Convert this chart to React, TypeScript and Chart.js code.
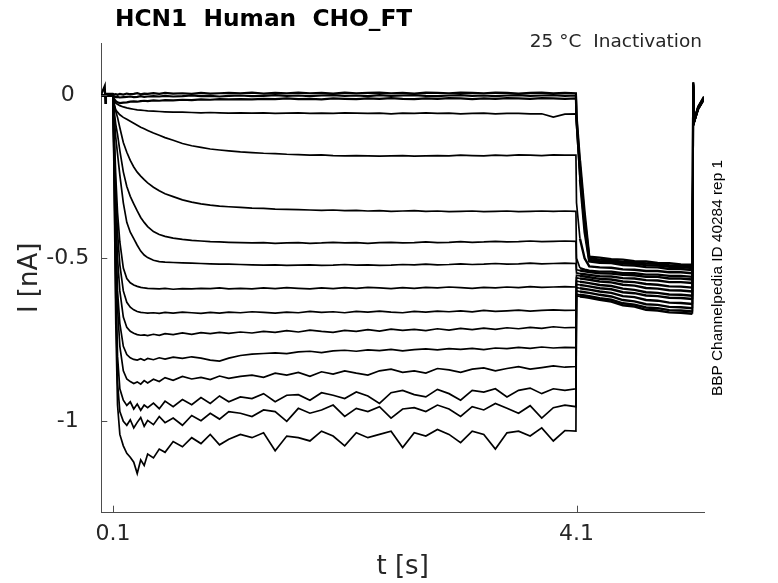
import { useEffect, useRef } from "react";
import Chart from "chart.js/auto";

// sample times [s], shared by every sweep
const timeS = [
  0, 0.03, 0.035, 0.04, 0.1,
  0.11, 0.125, 0.14, 0.16, 0.19, 0.22, 0.25, 0.28, 0.31, 0.34, 0.37, 0.4,
  0.45, 0.5, 0.55, 0.62, 0.7, 0.78, 0.86, 0.94, 1.02, 1.1,
  1.2, 1.3, 1.4, 1.5, 1.6, 1.7, 1.8, 1.9, 2.0, 2.1, 2.2, 2.3, 2.4, 2.5, 2.6,
  2.7, 2.8, 2.9, 3.0, 3.1, 3.2, 3.3, 3.4, 3.5, 3.6, 3.7, 3.8, 3.9, 4.0,
  4.095, 4.1,
  4.13, 4.17, 4.21,
  4.3, 4.4, 4.5, 4.6, 4.7, 4.8, 4.9, 5.0, 5.1,
  5.105, 5.107, 5.115, 5.15, 5.2,
];

// current [nA] per sweep
const sweep01 = [
  0.003, 0.028, -0.024, 0.004, 0.004,
  0.002, 0.003, 0.001, 0.004, 0.002, 0.005, 0.003, 0.004, 0.006, 0.003, 0.005, 0.004,
  0.006, 0.004, 0.007, 0.005, 0.006, 0.004, 0.007, 0.005, 0.006, 0.007,
  0.006, 0.008, 0.005, 0.007, 0.006, 0.008, 0.006, 0.007, 0.005, 0.008,
  0.006, 0.007, 0.008, 0.006, 0.007, 0.005, 0.008, 0.007, 0.006, 0.008,
  0.007, 0.006, 0.008, 0.007, 0.005, 0.007, 0.008, 0.006, 0.007,
  0.006, -0.06,
  -0.2, -0.36, -0.495,
  -0.498, -0.503, -0.504, -0.509, -0.51, -0.514, -0.515, -0.519, -0.52,
  -0.52, 0.04, -0.075, -0.035, -0.004,
];
const sweep02 = [
  0, 0, 0, 0, 0,
  -0.004, -0.006, -0.005, -0.007, -0.006, -0.005, -0.004, -0.006, -0.005, -0.003, -0.005, -0.004,
  -0.003, -0.004, -0.002, -0.004, -0.003, -0.001, -0.003, -0.002, -0.004, -0.002,
  -0.001, -0.003, -0.002, 0, -0.002, -0.001, -0.003, -0.001, 0, -0.002,
  -0.001, -0.003, 0, -0.002, -0.001, 0, -0.002, -0.003, -0.001, 0,
  -0.002, -0.001, -0.003, -0.001, 0, -0.002, -0.001, 0, -0.002,
  -0.001, -0.07,
  -0.22, -0.38, -0.5,
  -0.504, -0.506, -0.511, -0.512, -0.516, -0.517, -0.521, -0.522, -0.525,
  -0.525, 0.038, -0.077, -0.036, -0.006,
];
const sweep03 = [
  -0.002, -0.002, -0.002, -0.002, -0.002,
  -0.012, -0.018, -0.022, -0.024, -0.023, -0.022, -0.02, -0.019, -0.02, -0.018, -0.017, -0.018,
  -0.016, -0.017, -0.015, -0.016, -0.014, -0.015, -0.013, -0.014, -0.012, -0.013,
  -0.012, -0.013, -0.011, -0.012, -0.01, -0.012, -0.011, -0.013, -0.01, -0.011,
  -0.012, -0.01, -0.011, -0.009, -0.011, -0.012, -0.01, -0.011, -0.009, -0.01,
  -0.012, -0.01, -0.011, -0.009, -0.01, -0.011, -0.009, -0.01, -0.011,
  -0.01, -0.08,
  -0.24, -0.4, -0.505,
  -0.509, -0.511, -0.516, -0.517, -0.521, -0.522, -0.526, -0.527, -0.53,
  -0.53, 0.036, -0.078, -0.037, -0.007,
];
const sweep04 = [
  0, 0, 0, 0, 0,
  -0.018, -0.024, -0.028, -0.032, -0.036, -0.039, -0.041, -0.043, -0.045, -0.046, -0.047, -0.048,
  -0.049, -0.05, -0.051, -0.052, -0.052, -0.053, -0.054, -0.053, -0.054, -0.055,
  -0.054, -0.055, -0.054, -0.056, -0.055, -0.054, -0.056, -0.055, -0.056, -0.054,
  -0.055, -0.056, -0.055, -0.057, -0.055, -0.056, -0.054, -0.056, -0.055, -0.057,
  -0.056, -0.055, -0.057, -0.056, -0.056, -0.057, -0.057, -0.067, -0.058,
  -0.057, -0.09,
  -0.26, -0.42, -0.51,
  -0.514, -0.515, -0.521, -0.522, -0.527, -0.528, -0.533, -0.533, -0.536,
  -0.536, 0.035, -0.078, -0.038, -0.008,
];
const sweep05 = [
  0, 0, 0, 0, 0,
  -0.025, -0.045, -0.052, -0.06, -0.068, -0.074, -0.08, -0.086, -0.092, -0.098, -0.103, -0.108,
  -0.116, -0.123, -0.13, -0.138, -0.148, -0.155, -0.16, -0.165, -0.168, -0.171,
  -0.174, -0.176, -0.178, -0.179, -0.181, -0.182, -0.184, -0.183, -0.185, -0.186,
  -0.185, -0.186, -0.187, -0.186, -0.185, -0.187, -0.186, -0.185, -0.186, -0.184,
  -0.185, -0.186, -0.184, -0.185, -0.183, -0.184, -0.185, -0.183, -0.184,
  -0.184, -0.33,
  -0.44, -0.5, -0.525,
  -0.528, -0.529, -0.534, -0.535, -0.539, -0.539, -0.543, -0.543, -0.546,
  -0.546, 0.034, -0.079, -0.038, -0.008,
];
const sweep06 = [
  0, 0, 0, 0, 0,
  -0.03, -0.05, -0.068, -0.1, -0.145, -0.175, -0.2, -0.22, -0.236, -0.248, -0.259, -0.269,
  -0.282, -0.293, -0.302, -0.311, -0.321, -0.328, -0.333, -0.337, -0.34, -0.342,
  -0.344, -0.346, -0.347, -0.349, -0.35, -0.351, -0.352, -0.353, -0.352, -0.354,
  -0.353, -0.355, -0.354, -0.356, -0.355, -0.354, -0.356, -0.355, -0.357, -0.356,
  -0.355, -0.357, -0.356, -0.355, -0.357, -0.356, -0.355, -0.356, -0.355,
  -0.356, -0.5,
  -0.53, -0.535, -0.538,
  -0.541, -0.541, -0.546, -0.546, -0.55, -0.55, -0.554, -0.554, -0.557,
  -0.557, 0.033, -0.08, -0.039, -0.009,
];
const sweep07 = [
  0, 0, 0, 0, 0,
  -0.045, -0.09, -0.12, -0.17, -0.235, -0.28, -0.31, -0.333, -0.355, -0.375, -0.39, -0.403,
  -0.418, -0.427, -0.433, -0.438, -0.442, -0.445, -0.447, -0.449, -0.45, -0.451,
  -0.452, -0.453, -0.452, -0.454, -0.453, -0.452, -0.454, -0.453, -0.451, -0.453,
  -0.452, -0.454, -0.452, -0.451, -0.453, -0.452, -0.45, -0.452, -0.451, -0.449,
  -0.451, -0.45, -0.448, -0.45, -0.449, -0.447, -0.449, -0.448, -0.447,
  -0.448, -0.535,
  -0.538, -0.54, -0.542,
  -0.546, -0.547, -0.551, -0.552, -0.557, -0.557, -0.562, -0.562, -0.565,
  -0.565, 0.033, -0.08, -0.039, -0.009,
];
const sweep08 = [
  0, 0, 0, 0, 0,
  -0.06, -0.13, -0.18, -0.245, -0.33, -0.39, -0.42, -0.44, -0.46, -0.478, -0.49, -0.498,
  -0.506, -0.51, -0.512, -0.513, -0.514, -0.515, -0.516, -0.517, -0.518, -0.518,
  -0.519, -0.52, -0.521, -0.52, -0.522, -0.521, -0.52, -0.522, -0.521, -0.519,
  -0.521, -0.52, -0.522, -0.521, -0.519, -0.52, -0.518, -0.52, -0.519, -0.517,
  -0.519, -0.518, -0.516, -0.518, -0.517, -0.515, -0.517, -0.516, -0.515,
  -0.516, -0.545,
  -0.547, -0.549, -0.551,
  -0.555, -0.556, -0.561, -0.562, -0.567, -0.568, -0.573, -0.573, -0.576,
  -0.576, 0.032, -0.081, -0.04, -0.01,
];
const sweep09 = [
  0, 0, 0, 0, 0,
  -0.1, -0.25, -0.36, -0.45, -0.53, -0.562, -0.575, -0.582, -0.586, -0.589, -0.591, -0.592,
  -0.593, -0.594, -0.592, -0.595, -0.593, -0.594, -0.592, -0.593, -0.591, -0.594,
  -0.592, -0.594, -0.591, -0.593, -0.59, -0.592, -0.594, -0.591, -0.593, -0.59,
  -0.592, -0.589, -0.591, -0.593, -0.59, -0.592, -0.589, -0.591, -0.588, -0.59,
  -0.592, -0.589, -0.591, -0.588, -0.59, -0.587, -0.589, -0.588, -0.587,
  -0.588, -0.552,
  -0.554, -0.556, -0.558,
  -0.563, -0.565, -0.571, -0.573, -0.579, -0.581, -0.586, -0.587, -0.59,
  -0.59, 0.032, -0.081, -0.04, -0.01,
];
const sweep10 = [
  0, 0, 0, 0, 0,
  -0.12, -0.3, -0.42, -0.52, -0.6, -0.635, -0.65, -0.658, -0.663, -0.666, -0.667, -0.668,
  -0.667, -0.669, -0.666, -0.668, -0.665, -0.667, -0.669, -0.666, -0.668, -0.665,
  -0.667, -0.664, -0.666, -0.668, -0.665, -0.667, -0.663, -0.666, -0.664, -0.667,
  -0.663, -0.665, -0.662, -0.665, -0.667, -0.663, -0.665, -0.662, -0.664, -0.661,
  -0.664, -0.66, -0.663, -0.661, -0.659, -0.662, -0.66, -0.658, -0.66,
  -0.659, -0.56,
  -0.562, -0.564, -0.566,
  -0.571, -0.574, -0.581, -0.584, -0.591, -0.593, -0.598, -0.599, -0.602,
  -0.602, 0.031, -0.082, -0.041, -0.011,
];
const sweep11 = [
  0, 0, 0, 0, 0,
  -0.14, -0.35, -0.5, -0.6, -0.68, -0.712, -0.724, -0.73, -0.734, -0.736, -0.735, -0.737,
  -0.733, -0.736, -0.731, -0.734, -0.729, -0.733, -0.728, -0.731, -0.727, -0.73,
  -0.726, -0.729, -0.724, -0.727, -0.722, -0.726, -0.72, -0.724, -0.727, -0.721,
  -0.724, -0.719, -0.723, -0.717, -0.721, -0.718, -0.722, -0.716, -0.72, -0.715,
  -0.719, -0.714, -0.718, -0.713, -0.716, -0.712, -0.715, -0.71, -0.713,
  -0.712, -0.57,
  -0.572, -0.574, -0.576,
  -0.582, -0.585, -0.593, -0.597, -0.604, -0.606, -0.611, -0.612, -0.615,
  -0.615, 0.031, -0.082, -0.041, -0.011,
];
const sweep12 = [
  0, 0, 0, 0, 0,
  -0.16, -0.42, -0.6, -0.7, -0.77, -0.795, -0.805, -0.81, -0.812, -0.808, -0.813, -0.807,
  -0.811, -0.805, -0.809, -0.803, -0.807, -0.802, -0.806, -0.812, -0.815, -0.806,
  -0.798, -0.794, -0.792, -0.79, -0.792, -0.787, -0.785, -0.789, -0.784, -0.782,
  -0.785, -0.781, -0.783, -0.779, -0.784, -0.78, -0.778, -0.781, -0.777, -0.779,
  -0.776, -0.78, -0.775, -0.777, -0.773, -0.776, -0.772, -0.775, -0.773,
  -0.774, -0.58,
  -0.582, -0.584, -0.586,
  -0.592, -0.595, -0.604, -0.607, -0.614, -0.616, -0.621, -0.622, -0.625,
  -0.625, 0.03, -0.083, -0.042, -0.012,
];
const sweep13 = [
  0, 0, 0, 0, 0,
  -0.18, -0.45, -0.65, -0.77, -0.845, -0.87, -0.878, -0.884, -0.879, -0.886, -0.875, -0.882,
  -0.871, -0.878, -0.866, -0.874, -0.862, -0.87, -0.865, -0.872, -0.861, -0.868,
  -0.862, -0.858, -0.865, -0.852, -0.858, -0.85, -0.862, -0.848, -0.855, -0.845,
  -0.852, -0.858, -0.845, -0.84, -0.85, -0.845, -0.852, -0.838, -0.842, -0.85,
  -0.84, -0.836, -0.845, -0.838, -0.832, -0.84, -0.835, -0.83, -0.834,
  -0.832, -0.59,
  -0.592, -0.594, -0.596,
  -0.602, -0.606, -0.616, -0.619, -0.628, -0.63, -0.636, -0.637, -0.64,
  -0.64, 0.03, -0.083, -0.042, -0.012,
];
const sweep14 = [
  0, 0, 0, 0, 0,
  -0.2, -0.55, -0.8, -0.9, -0.935, -0.951, -0.94, -0.962, -0.947, -0.966, -0.95, -0.958,
  -0.944, -0.961, -0.938, -0.955, -0.933, -0.949, -0.927, -0.945, -0.922, -0.94,
  -0.925, -0.93, -0.915, -0.94, -0.92, -0.918, -0.935, -0.912, -0.92, -0.93,
  -0.91, -0.922, -0.945, -0.912, -0.905, -0.918, -0.925, -0.902, -0.915, -0.935,
  -0.905, -0.91, -0.9, -0.925, -0.905, -0.898, -0.915, -0.9, -0.905,
  -0.9, -0.6,
  -0.602, -0.604, -0.606,
  -0.612, -0.617, -0.628, -0.632, -0.641, -0.643, -0.649, -0.65, -0.653,
  -0.653, 0.029, -0.084, -0.043, -0.013,
];
const sweep15 = [
  0, 0, 0, 0, 0,
  -0.22, -0.62, -0.88, -0.97, -1.0, -1.012, -0.995, -1.02, -1.003, -0.988, -1.015, -0.997,
  -1.01, -0.985, -1.004, -0.99, -1.012, -0.982, -0.998, -0.975, -0.993, -0.97,
  -0.975, -0.985, -0.965, -0.97, -1.0, -0.96, -0.975, -0.965, -0.95, -0.985,
  -0.96, -0.97, -0.955, -0.99, -0.962, -0.958, -0.97, -0.95, -0.962, -0.985,
  -0.955, -0.965, -0.945, -0.96, -0.975, -0.952, -0.99, -0.958, -0.95,
  -0.955, -0.61,
  -0.612, -0.614, -0.616,
  -0.622, -0.627, -0.638, -0.642, -0.651, -0.653, -0.659, -0.66, -0.663,
  -0.663, 0.029, -0.084, -0.043, -0.013,
];
const sweep16 = [
  0, 0, 0, 0, 0,
  -0.25, -0.7, -0.95, -1.04, -1.075, -1.098, -1.11, -1.125, -1.16, -1.118, -1.135, -1.1,
  -1.112, -1.085, -1.095, -1.062, -1.078, -1.05, -1.068, -1.04, -1.072, -1.055,
  -1.04, -1.05, -1.035, -1.09, -1.045, -1.05, -1.06, -1.03, -1.045, -1.075,
  -1.035, -1.05, -1.04, -1.03, -1.08, -1.035, -1.045, -1.025, -1.04, -1.065,
  -1.03, -1.04, -1.085, -1.035, -1.03, -1.045, -1.02, -1.06, -1.028,
  -1.03, -0.615,
  -0.617, -0.619, -0.621,
  -0.627, -0.633, -0.644, -0.648, -0.658, -0.66, -0.666, -0.667, -0.67,
  -0.67, 0.028, -0.085, -0.044, -0.014,
];

const sweeps = [
  sweep01, sweep02, sweep03, sweep04, sweep05, sweep06, sweep07, sweep08,
  sweep09, sweep10, sweep11, sweep12, sweep13, sweep14, sweep15, sweep16,
];

const xTicks = [0.1, 4.1];
const yTicks = [-1, -0.5, 0];

const FONT = "'DejaVu Sans', sans-serif";
const TEXT = "#262626";
const AXIS = "#4d4d4d";

// MATLAB-style inward ticks plus the free text around the axes
const decorations = {
  id: "decorations",
  afterDraw(chart: any) {
    const { ctx, chartArea, scales } = chart;
    ctx.save();
    ctx.strokeStyle = AXIS;
    ctx.lineWidth = 1;
    xTicks.forEach((v) => {
      const px = Math.round(scales.x.getPixelForValue(v)) + 0.5;
      ctx.beginPath();
      ctx.moveTo(px, chartArea.bottom);
      ctx.lineTo(px, chartArea.bottom - 7);
      ctx.stroke();
    });
    yTicks.forEach((v) => {
      const py = Math.round(scales.y.getPixelForValue(v)) + 0.5;
      ctx.beginPath();
      ctx.moveTo(chartArea.left, py);
      ctx.lineTo(chartArea.left + 6, py);
      ctx.stroke();
    });

    ctx.fillStyle = "#000";
    ctx.textBaseline = "alphabetic";
    ctx.textAlign = "left";
    ctx.font = `bold 23.3px ${FONT}`;
    ctx.fillText("HCN1  Human  CHO_FT", 115, 26);

    ctx.fillStyle = TEXT;
    ctx.textAlign = "right";
    ctx.font = `18.5px ${FONT}`;
    ctx.fillText("25 °C  Inactivation", 702, 47);

    ctx.translate(722, 278);
    ctx.rotate(-Math.PI / 2);
    ctx.textAlign = "center";
    ctx.fillStyle = "#000";
    ctx.font = `15.4px 'Liberation Sans', Arial, sans-serif`;
    ctx.fillText("BBP Channelpedia ID 40284 rep 1", 0, 0);
    ctx.restore();
  },
};

export default function App() {
  const canvasRef = useRef<HTMLCanvasElement>(null);

  useEffect(() => {
    document.body.style.margin = "0";
    if (!canvasRef.current) return;
    const ctx = canvasRef.current.getContext("2d");
    if (!ctx) return;

    const datasets = sweeps.map((values, k) => ({
      data: timeS.map((t, i) => ({ x: t, y: values[i] })),
      borderColor: "#000",
      borderWidth: k < 3 ? 2.2 : 1.7,
      pointRadius: 0,
      tension: 0,
      fill: false,
      segment: {
        // tail current after the step is a dense, noisy band
        borderWidth: (c: any) => (c.p0.parsed.x >= 4.12 && c.p1.parsed.x <= 5.1 ? 2.4 : undefined),
      },
    }));

    const chart = new Chart(ctx, {
      type: "line",
      data: { datasets },
      options: {
        animation: false,
        responsive: true,
        maintainAspectRatio: false,
        events: [],
        layout: { padding: { top: 43, right: 74, left: 0, bottom: 0 } },
        plugins: {
          legend: { display: false },
          tooltip: { enabled: false },
        },
        scales: {
          x: {
            type: "linear",
            min: 0,
            max: 5.2,
            afterBuildTicks: (s: any) => {
              s.ticks = xTicks.map((value) => ({ value }));
            },
            afterFit: (s: any) => {
              s.height = 70.3;
            },
            ticks: {
              autoSkip: false,
              maxRotation: 0,
              padding: 8,
              color: TEXT,
              font: { family: FONT, size: 22 },
              callback: (v: any) => String(v),
            },
            grid: { display: false, drawTicks: false },
            border: { display: true, color: AXIS, width: 1 },
            title: {
              display: true,
              text: "t [s]",
              color: TEXT,
              font: { family: FONT, size: 26 },
              padding: { top: 0, bottom: 0 },
            },
          },
          y: {
            type: "linear",
            min: -1.28,
            max: 0.16,
            afterBuildTicks: (s: any) => {
              s.ticks = yTicks.map((value) => ({ value }));
            },
            afterFit: (s: any) => {
              s.width = 101.3;
            },
            ticks: {
              crossAlign: "center",
              padding: 12,
              color: TEXT,
              font: { family: FONT, size: 22 },
              callback: (v: any) => String(v),
            },
            grid: { display: false, drawTicks: false },
            border: { display: true, color: AXIS, width: 1 },
            title: {
              display: true,
              text: "I [nA]",
              color: TEXT,
              font: { family: FONT, size: 26 },
              padding: { top: 15, bottom: 0 },
            },
          },
        },
      },
      plugins: [decorations],
    } as any);

    return () => {
      chart.destroy();
    };
  }, []);

  return (
    <div style={{ position: "relative", width: 778, height: 583, background: "#fff" }}>
      <canvas ref={canvasRef} />
    </div>
  );
}
